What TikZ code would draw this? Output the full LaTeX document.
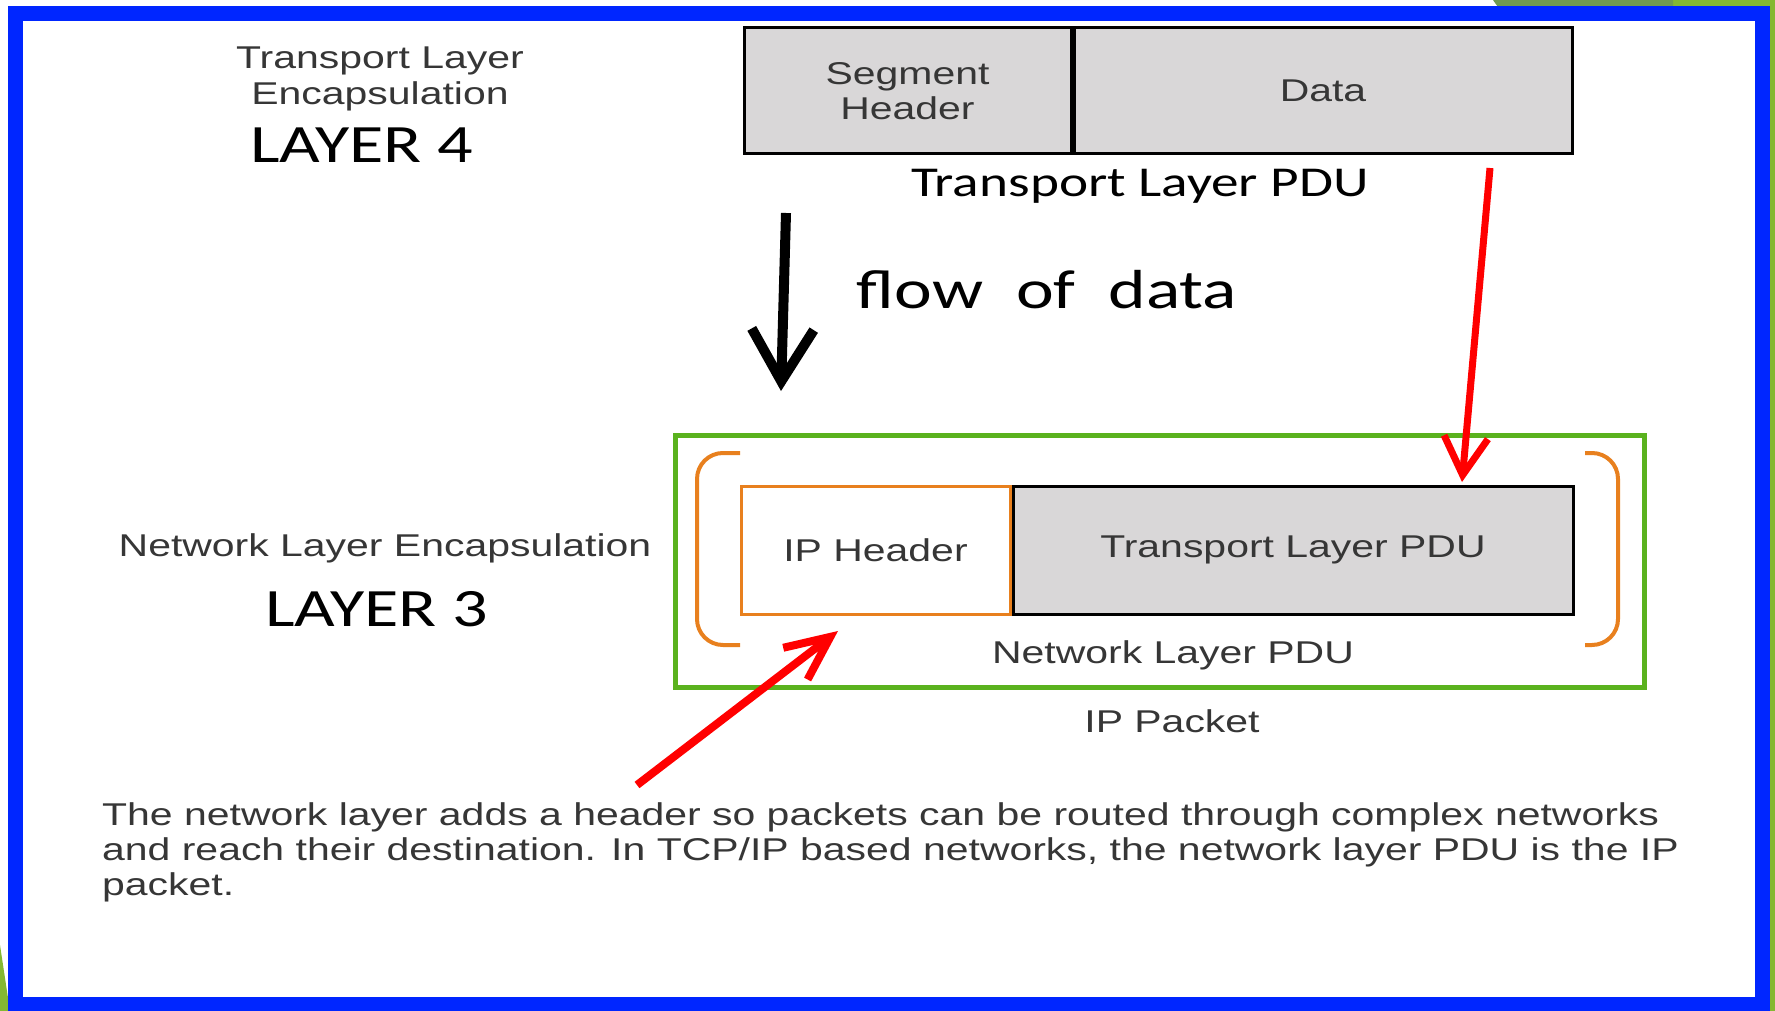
\documentclass[tikz,border=0pt]{standalone}
\usepackage{fontspec}
\usetikzlibrary{positioning, arrows.meta}

\newfontfamily\arialwide[FakeStretch=1.3]{Liberation Sans}
\newfontfamily\calwide[FakeStretch=1.3]{Carlito}

\definecolor{frameblue}{HTML}{0026FF}
\definecolor{slidegreen}{HTML}{84B832}
\definecolor{slidedark}{HTML}{709B50}
\definecolor{pktgreen}{HTML}{5AB21E}
\definecolor{hdrorange}{HTML}{E8801E}
\definecolor{boxgray}{HTML}{D9D7D8}
\definecolor{textgray}{HTML}{363636}

\tikzset{
  lbl/.style={font={\arialwide\fontsize{31.5}{35}\selectfont}, text=textgray, inner sep=0pt},
  calitxt/.style={font={\calwide\fontsize{#1}{#1}\selectfont}, text=black, inner sep=0pt},
  pdubox/.style={draw=black, line width=3pt, fill=boxgray, inner sep=0pt, align=center,
    font={\arialwide\fontsize{31.5}{35}\selectfont}, text=textgray},
  hdrbox/.style={pdubox, draw=hdrorange, fill=white},
  bracket/.style={draw=hdrorange, line width=4pt, rounded corners=26pt},
  redarrow/.style={draw=red, line width=#1}
}

\begin{document}
\begin{tikzpicture}[x=1pt, y=-1pt]
  \fill[white] (0,0) rectangle (1775,1011);
  \useasboundingbox (0,0) rectangle (1775,1011);
  % slide decoration and frame
  \fill[slidegreen] (1673,0) rectangle (1775,14);
  \fill[slidegreen] (1760,0) rectangle (1775,1011);
  \fill[slidedark] (1493,0) -- (1673,0) -- (1673,10) -- (1500,10) -- cycle;
  \fill[slidegreen] (0,945) -- (10,1011) -- (0,1011) -- cycle;
  \draw[line width=15pt, frameblue] (15.5,13.5) rectangle (1762,1004);

  % layer 4
  \node (tenc) at (380,79) [lbl, align=center,
    font={\arialwide\fontsize{31.5}{36}\selectfont}] {Transport Layer\\Encapsulation};
  \node (lyr4) at (362,163) [calitxt=54, anchor=base] {LAYER 4};
  \node (seg) at (907.5,91) [pdubox, minimum width=327pt, minimum height=126pt] {Segment\\Header};
  \node (data) [pdubox, minimum width=498pt, minimum height=126pt, right=0pt of seg] {Data};
  \node (tpdu) at (1140,197) [calitxt=42.5, anchor=base] {Transport Layer PDU};
  \node (flow) at (1047,308) [calitxt=55, anchor=base] {flow\hspace{33pt}of\hspace{33pt}data};

  % layer 3
  \node (nenc) at (385,556) [lbl, anchor=base] {Network Layer Encapsulation};
  \node (lyr3) at (377,626) [calitxt=54, anchor=base] {LAYER 3};
  \node (pkt) at (1159.5,561) [draw=pktgreen, line width=5pt, minimum width=969pt,
    minimum height=252pt, inner sep=0pt] {};
  \node (tlpdu) at (1293,550) [pdubox, minimum width=560pt, minimum height=128pt] {Transport Layer PDU};
  \node (iphdr) [hdrbox, minimum width=269pt, minimum height=128pt, left=0pt of tlpdu] {IP Header};
  \draw[bracket] (740,453) -- (697,453) -- (697,645) -- (740,645);
  \draw[bracket] (1585,453) -- (1618,453) -- (1618,645) -- (1585,645);
  \node (npdu) at (1173,663) [lbl, anchor=base] {Network Layer PDU};
  \node (pktlbl) at (1172,732) [lbl, anchor=base] {IP Packet};

  % note
  \node (note1) at (102,825) [lbl, anchor=base west]
    {The network layer adds a header so packets can be routed through complex networks};
  \node (note2) at (102,860) [lbl, anchor=base west]
    {and reach their destination. In TCP/IP based networks, the network layer PDU is the IP};
  \node (note3) at (102,895) [lbl, anchor=base west] {packet.};

  % arrows
  \coordinate (flowtop) at (786,213);
  \coordinate (flowend) at (781,391);
  \coordinate (pdusrc) at (1490,168);
  \coordinate (pdutip) at (1462,482);
  \coordinate (notesrc) at (637,785);
  \coordinate (hdrtip) at (838,631);
  \draw[line width=10pt, -{Straight Barb[length=52pt, width=62pt]}] (flowtop) -- (flowend);
  \draw[redarrow=7pt, -{Straight Barb[length=38pt, width=44pt]}] (pdusrc) -- (pdutip);
  \draw[redarrow=8pt, -{Straight Barb[length=44pt, width=40pt]}] (notesrc) -- (hdrtip);
\end{tikzpicture}
\end{document}
